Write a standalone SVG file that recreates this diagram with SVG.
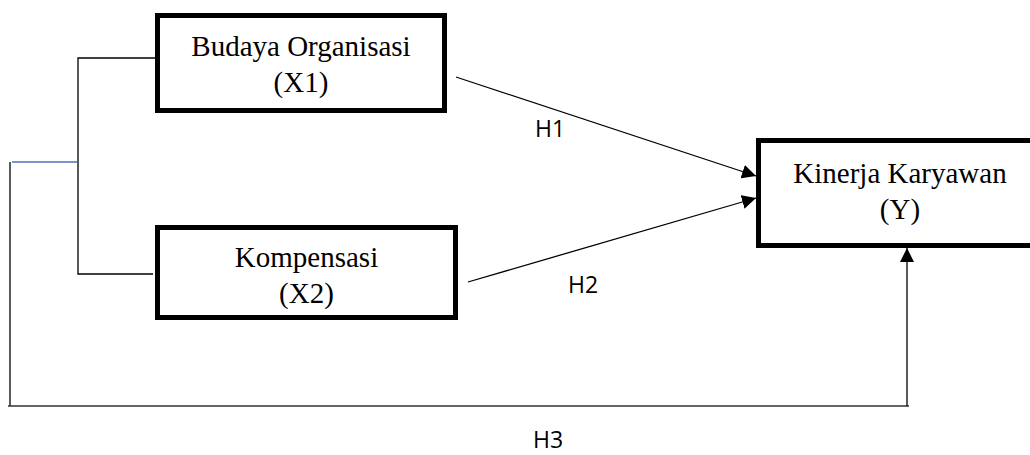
<svg xmlns="http://www.w3.org/2000/svg" width="1030" height="455" viewBox="0 0 1030 455">
<defs>
<style>
.box{fill:#fff;stroke:#000;stroke-width:5}
.t{font-family:"Liberation Serif","Times New Roman",serif;font-size:29px;fill:#000;text-anchor:middle}
.h{font-family:"Open Sans","Liberation Sans",sans-serif;font-size:23px;fill:#000}
.ln{fill:none;stroke:#000;stroke-width:1.3}
</style>
<marker id="ah" viewBox="0 0 14 14" refX="14" refY="7" markerWidth="14" markerHeight="14" markerUnits="userSpaceOnUse" orient="auto">
<path d="M0,0 L14,7 L0,14 Z" fill="#000"/>
</marker>
</defs>
<rect width="1030" height="455" fill="#fff"/>
<g id="connectors">
<path class="ln" d="M155,58 H78 V274 H153"/>
<path d="M12,162 H77" fill="none" stroke="#4a74b8" stroke-width="1.6"/>
<path d="M10,162 V406 M8,406 H909" fill="none" stroke="#333" stroke-width="1.6"/>
<line class="ln" x1="456" y1="77" x2="756" y2="176" marker-end="url(#ah)"/>
<line class="ln" x1="468" y1="282" x2="756" y2="198" marker-end="url(#ah)"/>
<line class="ln" x1="907" y1="406" x2="907" y2="248" marker-end="url(#ah)"/>
<text class="h" x="535" y="137">H1</text>
<text class="h" x="568" y="293">H2</text>
<text class="h" x="533" y="448">H3</text>
</g>
<g id="node-x1">
<rect class="box" x="157.5" y="15.5" width="287" height="95"/>
<text class="t" x="301" y="56">Budaya Organisasi</text>
<text class="t" x="301" y="92">(X1)</text>
</g>
<g id="node-x2">
<rect class="box" x="157.5" y="227.5" width="298" height="90"/>
<text class="t" x="306.5" y="267">Kompensasi</text>
<text class="t" x="306.5" y="303">(X2)</text>
</g>
<g id="node-y">
<rect class="box" x="758.5" y="140.5" width="284" height="105"/>
<text class="t" x="900" y="183">Kinerja Karyawan</text>
<text class="t" x="900" y="219">(Y)</text>
</g>
</svg>
